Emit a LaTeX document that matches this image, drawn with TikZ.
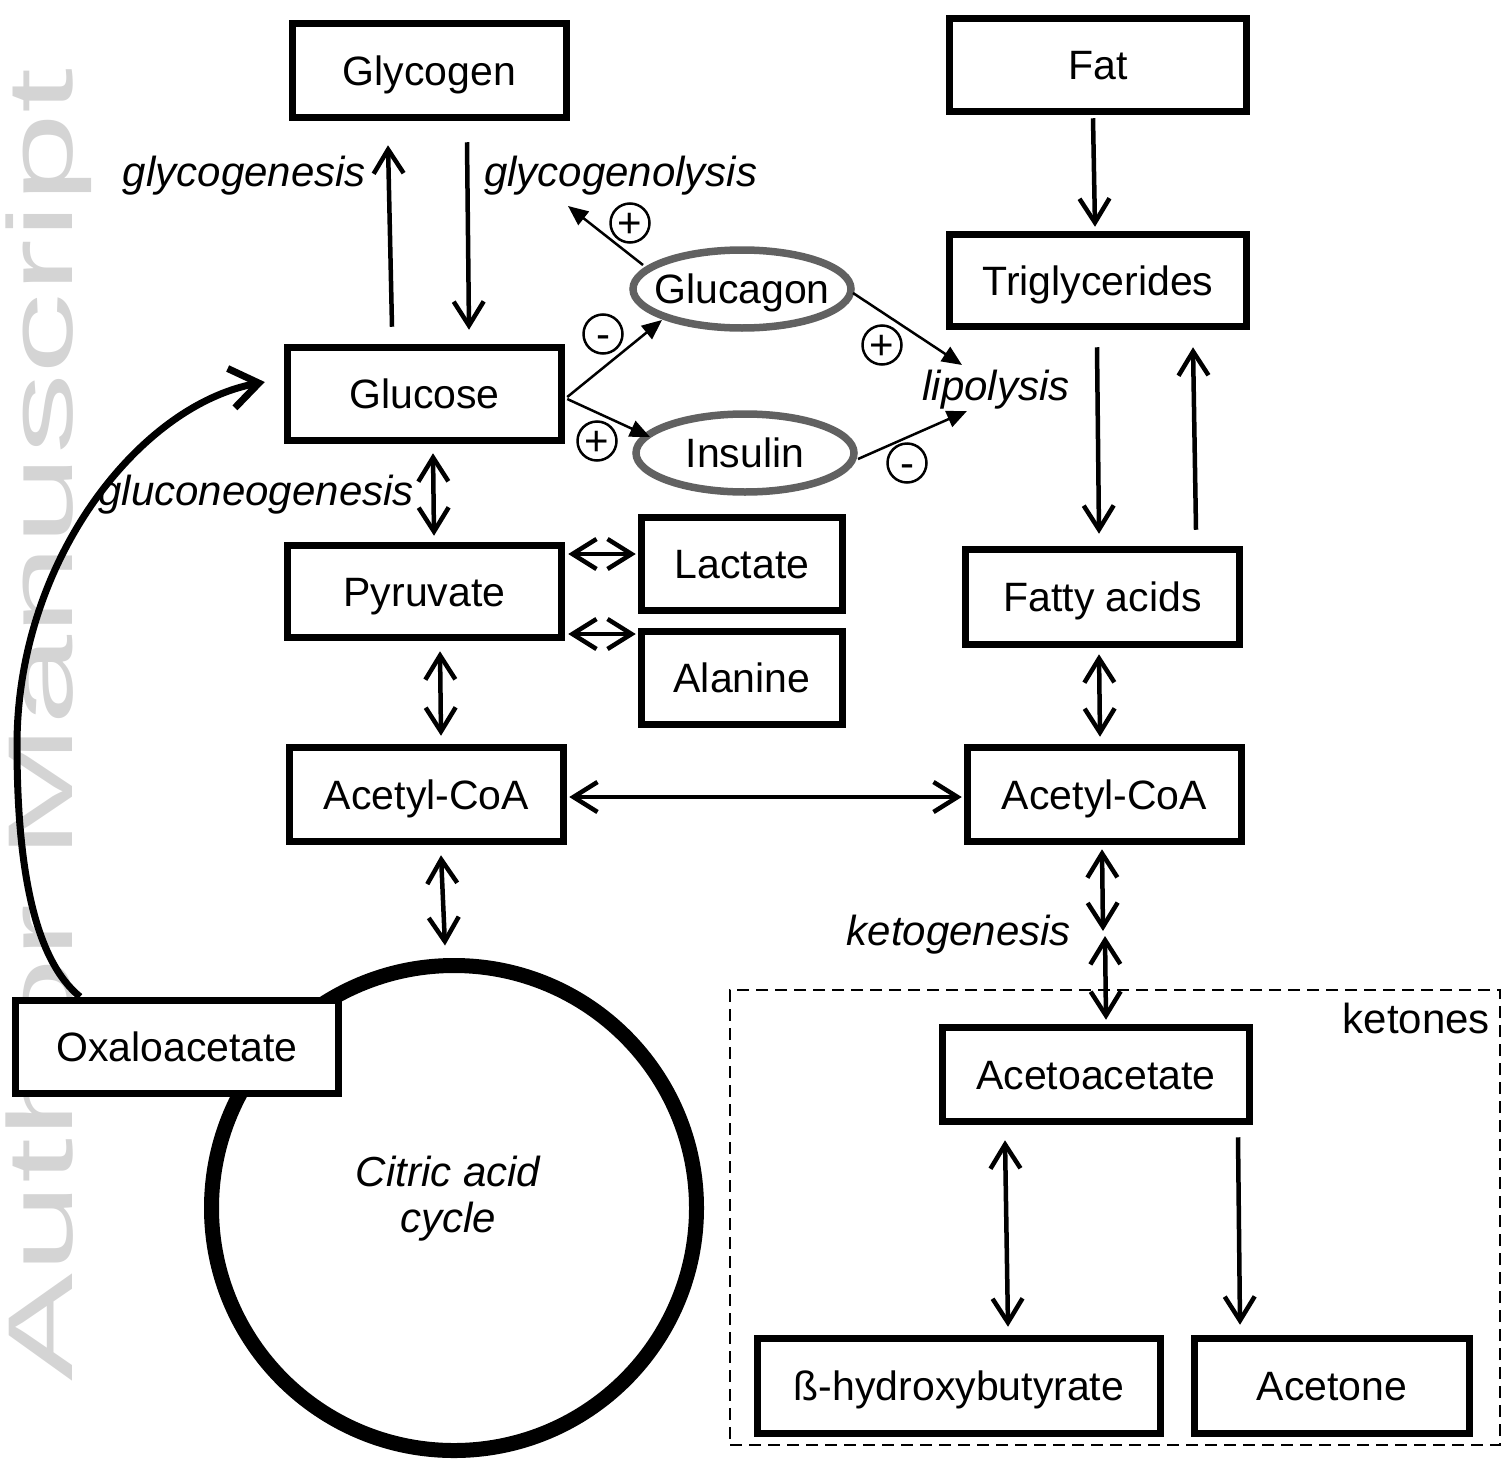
\documentclass[tikz,border=0pt]{standalone}
\usepackage{fontspec}
\setmainfont{Liberation Sans}
\usepackage{graphicx}
\usetikzlibrary{arrows.meta,shapes.geometric,calc}
\begin{document}
\begin{tikzpicture}[x=1pt,y=-1pt,
  box/.style={draw, line width=7.5pt, fill=white, inner sep=0pt,
    font=\fontsize{41}{48}\selectfont, text height=29.5pt, text depth=0pt},
  lbl/.style={font=\fontsize{42}{48}\selectfont\itshape, inner sep=0pt,
    text height=30pt, text depth=0pt},
  hormone/.style={ellipse, draw=black!62, line width=7.5pt, fill=white,
    minimum width=218pt, minimum height=78pt, inner sep=0pt},
  htext/.style={font=\fontsize{41}{48}\selectfont, inner sep=0pt,
    text height=29.5pt, text depth=0pt},
  sign/.style={circle, draw, line width=2.5pt, minimum size=39pt, inner sep=0pt,
    font=\fontsize{42}{42}\selectfont, text height=29pt, text depth=0pt},
  flow/.style={line width=4.5pt, -{Straight Barb[length=24pt,width=30pt]}},
  both/.style={line width=4.5pt,
    {Straight Barb[length=24pt,width=30pt]}-{Straight Barb[length=24pt,width=30pt]}},
  reg/.style={line width=2.5pt, -{Triangle[length=20pt,width=17pt]}},
]
\useasboundingbox (0,0) rectangle (1511,1461);

% watermark
\node[rotate=90, anchor=base west, inner sep=0pt, text=black!17,
  font=\fontsize{92}{92}\selectfont] (wm) at (72,1382)
  {\scalebox{1.76}[1]{Author Manuscript}};

% citric acid cycle
\node[circle, draw, line width=15pt, minimum size=485pt, inner sep=0pt] (tca) at (454,1208) {};
\node[font=\fontsize{42}{46}\selectfont\itshape, align=center, inner sep=0pt] (tcalbl) at (448,1199) {Citric acid\\cycle};

% ketones frame
\node[draw, dashed, dash pattern=on 12pt off 7pt, line width=2pt,
  minimum width=770pt, minimum height=455pt, inner sep=0pt] (ketbox) at (1115,1217.5) {};
\node[font=\fontsize{42}{48}\selectfont, anchor=east, inner sep=0pt,
  text height=30pt, text depth=0pt] (ketlbl) at (1490,1018) {ketones};

% boxes
\node[box, minimum width=274pt, minimum height=94pt] (glycogen) at (429.5,70.5) {Glycogen};
\node[box, minimum width=297pt, minimum height=93pt] (fat) at (1098,65) {Fat};
\node[box, minimum width=297pt, minimum height=92pt] (trig) at (1098,280.5) {Triglycerides};
\node[box, minimum width=274pt, minimum height=93pt] (glucose) at (424.5,394) {Glucose};
\node[box, minimum width=274pt, minimum height=92pt] (pyruvate) at (424.5,591.5) {Pyruvate};
\node[box, minimum width=201pt, minimum height=93pt] (lactate) at (742,564) {Lactate};
\node[box, minimum width=201pt, minimum height=93pt] (alanine) at (742,678) {Alanine};
\node[box, minimum width=274pt, minimum height=95pt] (fatty) at (1102.5,597) {Fatty acids};
\node[box, minimum width=274pt, minimum height=94pt] (acetylL) at (426.5,794.5) {Acetyl-CoA};
\node[box, minimum width=274pt, minimum height=94pt] (acetylR) at (1104.5,794.5) {Acetyl-CoA};
\node[box, minimum width=323pt, minimum height=93pt] (oxalo) at (177,1047) {Oxaloacetate};
\node[box, minimum width=307pt, minimum height=94pt] (acetoac) at (1096,1074.5) {Acetoacetate};
\node[box, minimum width=403pt, minimum height=95pt] (hydroxy) at (959,1386) {ß-hydroxybutyrate};
\node[box, minimum width=275pt, minimum height=95pt] (acetone) at (1332,1386) {Acetone};

% hormones
\node[hormone] (glucagon) at (742,289) {};
\node[htext] (glucagontxt) at (glucagon.center) {Glucagon};
\node[hormone] (insulin) at (745,453) {};
\node[htext] (insulintxt) at (insulin.center) {Insulin};

% labels
\node[lbl, anchor=east] (lglyc) at (366,171) {glycogenesis};
\node[lbl, anchor=west] (lglyl) at (484,171) {glycogenolysis};
\node[lbl, anchor=east] (lgluco) at (414,490) {gluconeogenesis};
\node[lbl] (llipo) at (996,385) {lipolysis};
\node[lbl, anchor=east] (lketo) at (1071,930) {ketogenesis};

% signs
\node[sign] (s1) at (630,223) {+};
\node[sign] (s2) at (603,334) {-};
\node[sign] (s3) at (597,441) {+};
\node[sign] (s4) at (882,345) {+};
\node[sign] (s5) at (907,463) {-};

% glycogen arrows
\draw[flow] ($(glucose.north)+(-32.5,-17)$) -- ($(glycogen.south)+(-41.5,24)$);
\draw[flow] ($(glycogen.south)+(37.5,21)$) -- ($(glucose.north)+(44.5,-14)$);

% fat arrows
\draw[flow] ($(fat.south)+(-5,3)$) -- ($(trig.north)+(-3,-4)$);
\draw[flow] ($(trig.south)+(-1,17)$) -- ($(fatty.north)+(-3.5,-12)$);
\draw[flow] ($(fatty.north)+(93.5,-16)$) -- ($(trig.south)+(95,17)$);

% double arrows
\draw[both] ($(glucose.south)+(8.5,9)$) -- ($(pyruvate.north)+(9.5,-6)$);
\draw[both] ($(pyruvate.east)+(3,-37.5)$) -- ($(lactate.west)+(-2,-10)$);
\draw[both] ($(pyruvate.east)+(3,42.5)$) -- ($(alanine.west)+(-2,-44)$);
\draw[both] ($(pyruvate.south)+(15.5,10)$) -- ($(acetylL.north)+(14.5,-8)$);
\draw[both] ($(acetylL.east)+(2,2.5)$) -- ($(acetylR.west)+(-2,2.5)$);
\draw[both] ($(fatty.south)+(-3.5,6)$) -- ($(acetylR.north)+(-4.5,-7)$);
\draw[both] ($(acetylL.south)+(14.5,10)$) -- ($(tca.north)+(-9,-12.5)$);

% ketogenesis
\coordinate (kmid) at (1104,933.5);
\draw[both] ($(acetylR.south)+(-2.5,4)$) -- ($(kmid)+(-1,-2.5)$);
\draw[both] ($(kmid)+(1,2.5)$) -- ($(acetoac.north)+(10,-4)$);

% ketone arrows
\draw[both] ($(acetoac.south)+(-91,15)$) -- ($(hydroxy.north)+(49,-8)$);
\draw[flow] ($(acetoac.south)+(142,12)$) -- ($(acetone.north)+(-92,-10)$);

% gluconeogenesis curve
\draw[line width=7pt, -{Straight Barb[length=28pt,width=40pt]}]
  ($(oxalo.north)+(-97,0)$) .. controls (35,960) and (17,870) .. (17,745)
  .. controls (17,560) and (140,405) .. ($(glucose.west)+(-19,-12)$);

% hormone regulation
\draw[reg] ($(glucose.east)+(2,3)$) -- ($(glucagon.center)+(-80,31)$);
\draw[reg] ($(glucose.east)+(2,5)$) -- ($(insulin.center)+(-95,-16)$);
\draw[reg] ($(glucagon.center)+(-99,-24)$) -- ($(lglyl.west)+(84,35)$);
\draw[reg] ($(glucagon.center)+(111,4)$) -- ($(llipo.center)+(-34,-20)$);
\draw[reg] ($(insulin.center)+(113,6)$) -- ($(llipo.center)+(-29,26)$);
\end{tikzpicture}
\end{document}
